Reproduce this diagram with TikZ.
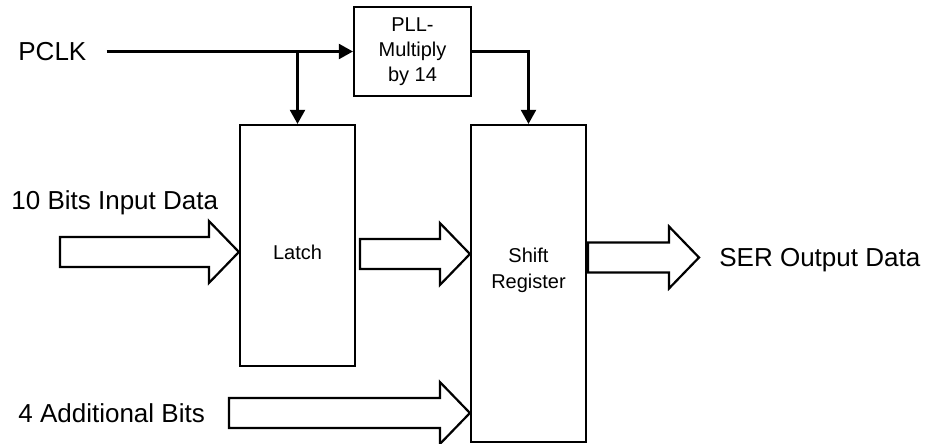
\documentclass[tikz,border=0pt]{standalone}
\usepackage{fontspec}
\setmainfont{Liberation Sans}
\usetikzlibrary{arrows.meta,calc,positioning}

\newcommand{\fatarrow}[2]{%
  \draw[fat] ($(#1)+(0,-15)$) -- ($(#2)+(-30,-15)$) -- ($(#2)+(-30,-31)$) -- (#2)
    -- ($(#2)+(-30,31)$) -- ($(#2)+(-30,15)$) -- ($(#1)+(0,15)$) -- cycle;}

\begin{document}
\begin{tikzpicture}[
  x=0.5pt, y=-0.5pt,
  box/.style={draw, line width=1.1pt, inner sep=0pt, align=center, font=\fontsize{10}{12.5}\selectfont},
  boxtext/.style={inner sep=0pt, align=center, font=\fontsize{10}{13}\selectfont},
  lbl/.style={inner sep=0pt, anchor=west, text height=9.3pt, text depth=0pt, font=\fontsize{13}{15}\selectfont},
  wire/.style={line width=1.1pt, -{Triangle[length=7pt,width=7.5pt]}},
  fat/.style={draw, line width=1.1pt, fill=white, line join=miter}
]
\useasboundingbox (0,0) rectangle (928,444);

\node[box, minimum width=58.5pt, minimum height=44.5pt] (pll) at (412.5,51.5) {PLL-\\Multiply\\by 14};
\node[box, minimum width=57.5pt, minimum height=120.5pt,
  label={[boxtext, yshift=-3.25pt]center:Latch}] (latch) at (297.5,245.5) {};
\node[box, minimum width=57.5pt, minimum height=158.5pt,
  label={[boxtext, yshift=6.75pt]center:Shift\\Register}] (shift) at (528.5,283.5) {};

\node[lbl] (pclk) at (18,51.5) {PCLK};
\node[lbl] (indata) at (11,200) {10 Bits Input Data};
\node[lbl] (extra) at (18,413) {4 Additional Bits};
\node[lbl] (serout) at (719,257.5) {SER Output Data};

\draw[wire] ([xshift=10pt]pclk.east) -- (pll.west);
\draw[wire] (latch.north |- pll.west) -- (latch.north);
\draw[wire] (pll.east) -| (shift.north);

\coordinate (intail) at (60,252);
\coordinate (intip) at (intail -| latch.west);
\coordinate (midtail) at (360,254);
\coordinate (midtip) at (midtail -| shift.west);
\coordinate (outtail) at (588,257.5);
\coordinate (outtip) at (699,257.5);
\coordinate (extratail) at (229,413);
\coordinate (extratip) at (extratail -| shift.west);

\fatarrow{intail}{intip}
\fatarrow{midtail}{midtip}
\fatarrow{outtail}{outtip}
\fatarrow{extratail}{extratip}
\end{tikzpicture}
\end{document}
